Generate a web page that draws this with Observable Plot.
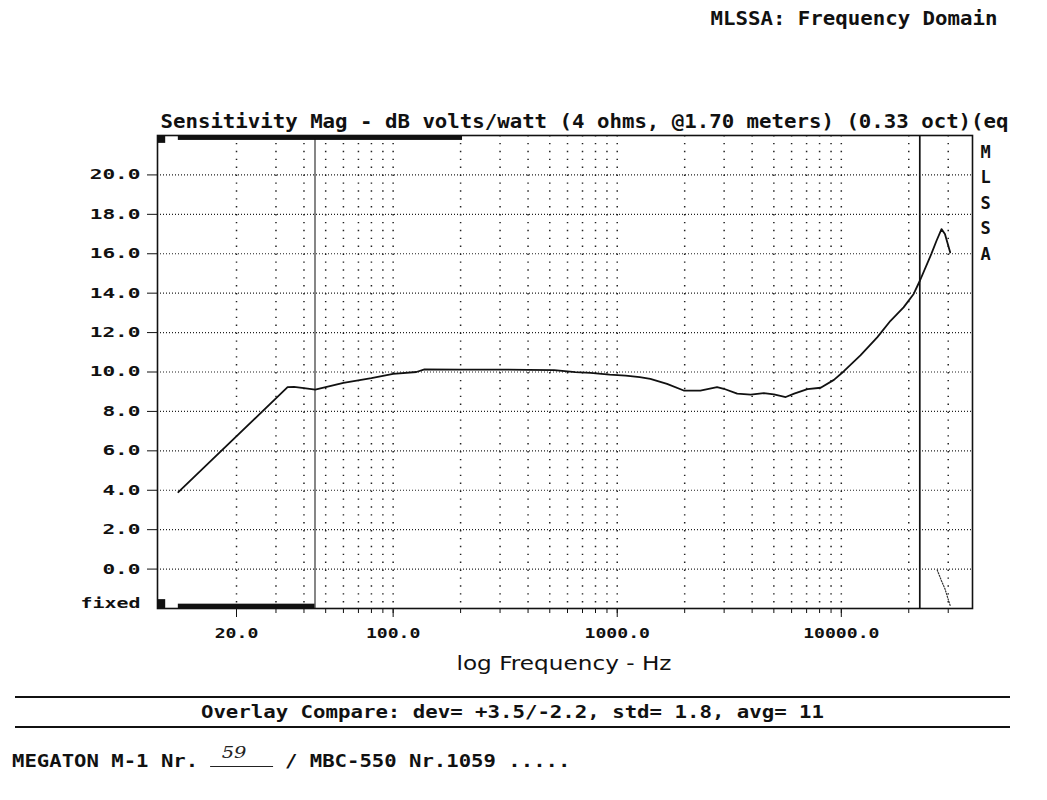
<!DOCTYPE html>
<html>
<head>
<meta charset="utf-8">
<script src="https://cdn.jsdelivr.net/npm/d3@7"></script>
<script src="https://cdn.jsdelivr.net/npm/@observablehq/plot@0.6"></script>
<style>
  html, body { margin: 0; padding: 0; background: #fff; }
  body { position: relative; width: 1047px; height: 800px; overflow: hidden; font-family: "DejaVu Sans Mono", monospace; color: #111; }
  #chart { position: absolute; left: 0; top: 0; }
  #overlay-box { position: absolute; left: 15px; top: 696px; width: 995px; height: 28px; border-top: 2px solid #111; border-bottom: 2px solid #111; }
  #overlay-text { text-align: center; font-weight: bold; font-size: 18px; line-height: 28px; white-space: pre; transform: scaleX(1.15); transform-origin: 50% 50%; }
  #model { position: absolute; left: 12px; top: 750px; font-weight: bold; font-size: 18px; line-height: 22px; white-space: pre; transform: scaleX(1.145); transform-origin: 0 50%; }
  #blank { display: inline-block; position: relative; width: 5ch; height: 15px; border-bottom: 1px solid #222; vertical-align: baseline; }
  #hand { position: absolute; left: 0.9ch; bottom: 3px; font-family: "DejaVu Serif", serif; font-style: italic; font-weight: normal; font-size: 17px; color: #222; }
</style>
</head>
<body>
<div id="chart"></div>
<div id="overlay-box"><div id="overlay-text"></div></div>
<div id="model"></div>
<script>
// ---- data ----
const freqs = [11.0, 33.8, 36.1, 40, 44.9, 60, 80, 100, 127, 138, 200, 300, 400, 523, 650, 760, 925, 1090, 1260, 1405, 1668, 1980, 2350, 2790, 2990, 3430, 3940, 4510, 5000, 5650, 6160, 7060, 8090, 9270, 10270, 12170, 14460, 16580, 18960, 21030, 22420, 25200, 26600, 28000, 29000, 30600];
const sensitivity = [3.9, 9.23, 9.25, 9.18, 9.11, 9.45, 9.69, 9.91, 10.0, 10.13, 10.12, 10.12, 10.11, 10.1, 9.99, 9.96, 9.87, 9.82, 9.74, 9.65, 9.40, 9.06, 9.06, 9.23, 9.15, 8.9, 8.85, 8.93, 8.86, 8.73, 8.9, 9.13, 9.2, 9.6, 10.04, 10.84, 11.76, 12.6, 13.28, 13.96, 14.63, 15.98, 16.66, 17.25, 17.0, 16.07];
const overlayFreqs = [26800, 28000, 29000, 30600];
const overlayValues = [-0.05, -0.6, -1.0, -1.85];
const gridFreqs = [20, 30, 40, 50, 60, 70, 80, 90, 100, 200, 300, 400, 500, 600, 700, 800, 900, 1000, 2000, 3000, 4000, 5000, 6000, 7000, 8000, 9000, 10000, 20000, 30000];
const xLabelFreqs = [20, 100, 1000, 10000];
const yTicks = [0, 2, 4, 6, 8, 10, 12, 14, 16, 18, 20];
const lowCursor = [44.8];
const highCursor = [22400];
const xDomain = [8.88, 38500];
const yDomain = [-2, 22];
// range bars (top: analysis range, bottom: low range) and corner markers
const barX1 = [11, 11];
const barX2 = [204, 44.8];
const barY1 = [21.75, -2];
const barY2 = [22, -1.78];
const cornerX1 = [8.88, 8.88];
const cornerX2 = [9.66, 9.66];
const cornerY1 = [21.6, -2];
const cornerY2 = [22, -1.55];

const headerText = "MLSSA: Frequency Domain";
const titleText = "Sensitivity Mag - dB volts/watt (4 ohms, @1.70 meters) (0.33 oct)(eq";
const sideText = "M\nL\nS\nS\nA";
const xLabelText = "log Frequency - Hz";
const fixedText = "fixed";
const overlayText = "Overlay Compare: dev= +3.5/-2.2, std= 1.8, avg= 11";
const modelPrefix = "MEGATON M-1 Nr. ";
const modelNumber = "59";
const modelSuffix = " / MBC-550 Nr.1059 .....";

// ---- build tables ----
const curve = freqs.map((f, i) => ({f, v: sensitivity[i]}));
const overlay = overlayFreqs.map((f, i) => ({f, v: overlayValues[i]}));
const bars = barX1.map((x, i) => ({x1: x, x2: barX2[i], y1: barY1[i], y2: barY2[i]}));
const corners = cornerX1.map((x, i) => ({x1: x, x2: cornerX2[i], y1: cornerY1[i], y2: cornerY2[i]}));

const mono = "DejaVu Sans Mono";
const chart = Plot.plot({
  width: 1047,
  height: 680,
  marginLeft: 157,
  marginRight: 75,
  marginTop: 135,
  marginBottom: 72,
  style: {fontFamily: mono, background: "white", color: "#111", overflow: "visible"},
  x: {type: "log", domain: xDomain},
  y: {domain: yDomain},
  marks: [
    Plot.ruleY(yTicks, {stroke: "#222", strokeWidth: 1.1, strokeDasharray: "1,2"}),
    Plot.ruleX(gridFreqs, {stroke: "#222", strokeWidth: 1.5, strokeDasharray: "1.4,6.5"}),
    Plot.ruleX(lowCursor, {stroke: "#444", strokeWidth: 1.3}),
    Plot.ruleX(highCursor, {stroke: "#111", strokeWidth: 1.7}),
    Plot.rect(bars, {x1: "x1", x2: "x2", y1: "y1", y2: "y2", fill: "#111"}),
    Plot.rect(corners, {x1: "x1", x2: "x2", y1: "y1", y2: "y2", fill: "#111"}),
    Plot.line(overlay, {x: "f", y: "v", stroke: "#333", strokeWidth: 1.2, strokeDasharray: "1.2,1.6"}),
    Plot.line(curve, {x: "f", y: "v", stroke: "#111", strokeWidth: 1.8}),
    Plot.frame({stroke: "#111", strokeWidth: 1.6}),
    Plot.axisY(yTicks, {tickSize: 10, tickPadding: 7, tickFormat: d => d.toFixed(1), label: null, fontSize: 14, fontWeight: "bold", fontFamily: mono, className: "yax"}),
    Plot.axisX(gridFreqs, {tickSize: 5, tickFormat: () => "", label: null}),
    Plot.axisX(xLabelFreqs, {tickSize: 9, tickPadding: 11, tickFormat: d => d.toFixed(1), label: null, fontSize: 14, fontWeight: "bold", fontFamily: mono, className: "xax"}),
    Plot.text([fixedText], {text: d => d, frameAnchor: "bottom-left", dx: -17, dy: -5, textAnchor: "end", lineAnchor: "middle", fontSize: 14, fontWeight: "bold", className: "fixedlab"}),
    Plot.text([headerText], {text: d => d, frameAnchor: "top-left", dx: 553, dy: -111, textAnchor: "start", lineAnchor: "bottom", fontSize: 19, fontWeight: "bold", className: "hdr"}),
    Plot.text([titleText], {text: d => d, frameAnchor: "top-left", dx: 3, dy: -8, textAnchor: "start", lineAnchor: "bottom", fontSize: 20, fontWeight: "bold", className: "ttl"}),
    Plot.text([sideText], {text: d => d, frameAnchor: "top-right", dx: 13, dy: 4, textAnchor: "middle", lineAnchor: "top", lineHeight: 1.5, fontSize: 17, fontWeight: "bold"}),
    Plot.text([xLabelText], {text: d => d, frameAnchor: "bottom", dx: -1, dy: 61, textAnchor: "middle", lineAnchor: "bottom", fontSize: 19, fontFamily: "DejaVu Sans", className: "xlab"})
  ]
});
document.getElementById("chart").appendChild(chart);

// stretch the bitmap-style wide text to the reference widths
const perChar = {ttl: 12.47, hdr: 12.48, yax: 12.7, xax: 10.9, fixedlab: 12, xlab: 215 / 18};
for (const [cls, w] of Object.entries(perChar)) {
  chart.querySelectorAll(`.${cls} text`).forEach(t => {
    const s = t.textContent;
    if (!s) return;
    t.setAttribute("textLength", (s.length * w).toFixed(1));
    t.setAttribute("lengthAdjust", "spacingAndGlyphs");
  });
}

// footer texts
document.getElementById("overlay-text").textContent = overlayText;
const model = document.getElementById("model");
model.appendChild(document.createTextNode(modelPrefix));
const blank = document.createElement("span");
blank.id = "blank";
const hand = document.createElement("span");
hand.id = "hand";
hand.textContent = modelNumber;
blank.appendChild(hand);
model.appendChild(blank);
model.appendChild(document.createTextNode(modelSuffix));
</script>
</body>
</html>
